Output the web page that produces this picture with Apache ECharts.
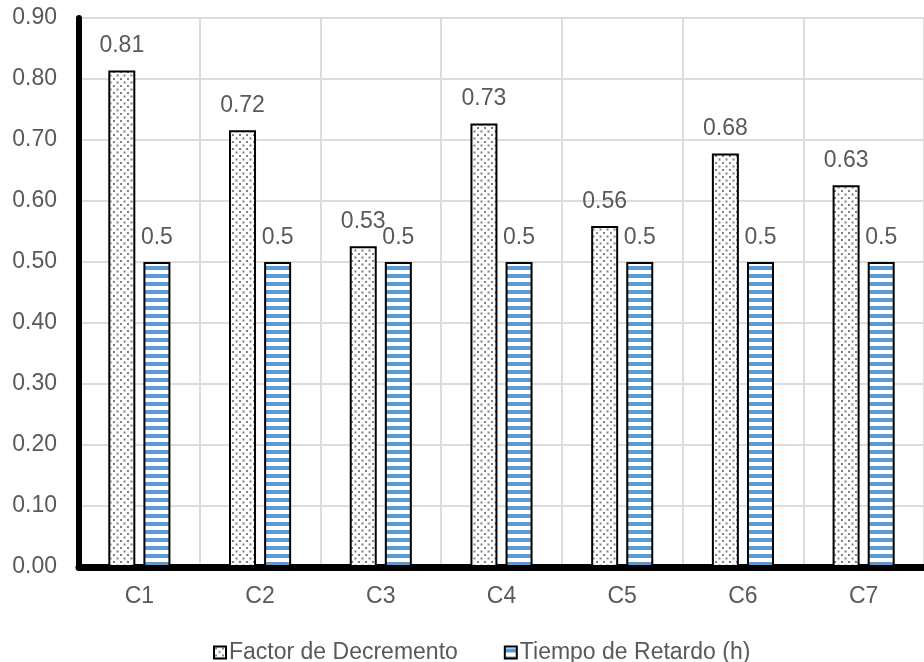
<!DOCTYPE html>
<html>
<head>
<meta charset="utf-8">
<title>Factor de Decremento y Tiempo de Retardo</title>
<script src="https://cdn.jsdelivr.net/npm/echarts@6/dist/echarts.min.js"></script>
<style>
  html, body { margin: 0; padding: 0; background: #ffffff; }
  #chart { width: 924px; height: 662px; }
</style>
</head>
<body>
<div id="chart"></div>
<script>
// Categories and series values
const categories = ['C1', 'C2', 'C3', 'C4', 'C5', 'C6', 'C7'];
const factorDecremento = [0.814, 0.716, 0.526, 0.727, 0.559, 0.678, 0.626];
const tiempoRetardo = [0.5, 0.5, 0.5, 0.5, 0.5, 0.5, 0.5];
const seriesNames = ['Factor de Decremento', 'Tiempo de Retardo (h)'];

const FONT = '"Liberation Sans", Arial, sans-serif';
const TEXT_COLOR = '#595959';

// Fill patterns: staggered gray dots and horizontal blue stripes
function dotPattern() {
  const c = document.createElement('canvas');
  c.width = 7; c.height = 7;
  const g = c.getContext('2d');
  g.fillStyle = '#ffffff';
  g.fillRect(0, 0, 7, 7);
  g.fillStyle = '#808080';
  g.fillRect(1, 1, 2, 2);
  g.fillRect(4.5, 4.5, 2, 2);
  return c;
}
function stripePattern() {
  const c = document.createElement('canvas');
  c.width = 8; c.height = 8;
  const g = c.getContext('2d');
  g.fillStyle = '#ffffff';
  g.fillRect(0, 0, 8, 8);
  g.fillStyle = '#5b9bd5';
  g.fillRect(0, 2, 8, 4);
  return c;
}

const labelStyle = {
  show: true,
  position: 'top',
  distance: 13,
  color: TEXT_COLOR,
  fontFamily: FONT,
  fontSize: 23
};

const chart = echarts.init(document.getElementById('chart'), null, { renderer: 'canvas' });

chart.setOption({
  animation: false,
  backgroundColor: '#ffffff',
  grid: { left: 79, top: 18, width: 853, height: 549, containLabel: false },
  legend: {
    data: seriesNames,
    left: 208,
    top: 636,
    icon: 'rect',
    itemWidth: 12,
    itemHeight: 12,
    itemGap: 46,
    textStyle: { color: TEXT_COLOR, fontFamily: FONT, fontSize: 23, padding: [0, 0, 0, -2] }
  },
  xAxis: {
    type: 'category',
    data: categories,
    axisLine: { show: true, lineStyle: { color: '#000000', width: 7 } },
    axisTick: { show: false },
    splitLine: { show: true, interval: 0, lineStyle: { color: '#dcdcdc', width: 2 } },
    axisLabel: { color: TEXT_COLOR, fontFamily: FONT, fontSize: 23, margin: 18 }
  },
  yAxis: {
    type: 'value',
    min: 0,
    max: 0.9,
    interval: 0.1,
    axisLine: { show: true, lineStyle: { color: '#000000', width: 6 } },
    axisTick: { show: false },
    splitLine: { show: true, lineStyle: { color: '#dcdcdc', width: 2 } },
    axisLabel: {
      color: TEXT_COLOR, fontFamily: FONT, fontSize: 23, margin: 22,
      formatter: v => v.toFixed(2)
    }
  },
  series: [
    {
      name: seriesNames[0],
      type: 'bar',
      data: factorDecremento,
      barWidth: 27,
      barGap: '30%',
      itemStyle: {
        color: { image: dotPattern(), repeat: 'repeat' },
        borderColor: '#000000',
        borderWidth: 2
      },
      label: Object.assign({}, labelStyle, { formatter: p => p.value.toFixed(2) })
    },
    {
      name: seriesNames[1],
      type: 'bar',
      data: tiempoRetardo,
      barWidth: 27,
      itemStyle: {
        color: { image: stripePattern(), repeat: 'repeat' },
        borderColor: '#000000',
        borderWidth: 2
      },
      label: Object.assign({}, labelStyle, { formatter: p => String(p.value) })
    }
  ]
});
</script>
</body>
</html>
